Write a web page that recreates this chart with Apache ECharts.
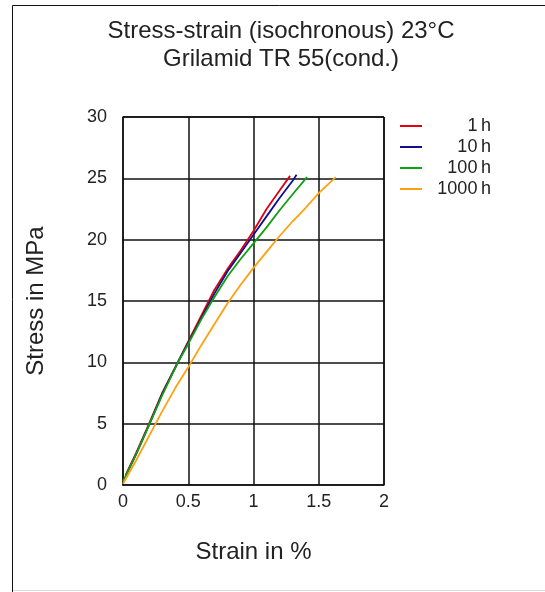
<!DOCTYPE html>
<html><head><meta charset="utf-8">
<script src="https://cdn.jsdelivr.net/npm/echarts@6/dist/echarts.min.js"></script>
<style>html,body{margin:0;padding:0;background:#fff}#c{width:545px;height:592px}</style>
</head><body><div id="c"></div>
<script>
const seriesNames = ['1h', '10h', '100h', '1000h'];
const legendLabels = ['1\u2009h', '10\u2009h', '100\u2009h', '1000\u2009h'];
const seriesColors = ['#e00010', '#10108c', '#10a010', '#ffa010'];
const xTicks = [0, 0.5, 1, 1.5, 2];
const yTicks = [0, 5, 10, 15, 20, 25, 30];

const strain1h = [0.02, 0.1, 0.2, 0.3, 0.42, 0.5, 0.6, 0.7, 0.8, 0.9, 1.0, 1.1, 1.2, 1.28];
const stress1h = [0.8, 2.6, 5.0, 7.5, 10.0, 11.7, 13.8, 15.9, 17.6, 19.1, 20.7, 22.5, 24.0, 25.2];
const strain10h = [0.02, 0.1, 0.2, 0.3, 0.42, 0.5, 0.6, 0.7, 0.8, 0.9, 1.0, 1.1, 1.2, 1.3, 1.33];
const stress10h = [0.7, 2.5, 4.9, 7.4, 10.0, 11.6, 13.6, 15.6, 17.4, 18.9, 20.4, 21.9, 23.4, 24.8, 25.3];
const strain100h = [0.0, 0.1, 0.2, 0.3, 0.42, 0.5, 0.6, 0.7, 0.8, 0.9, 1.0, 1.1, 1.2, 1.3, 1.41];
const stress100h = [0.3, 2.5, 4.9, 7.3, 10.0, 11.5, 13.5, 15.3, 17.0, 18.4, 19.7, 21.0, 22.4, 23.7, 25.1];
const strain1000h = [0.0, 0.1, 0.2, 0.3, 0.4, 0.5, 0.6, 0.7, 0.8, 0.9, 1.0, 1.1, 1.2, 1.3, 1.4, 1.5, 1.63];
const stress1000h = [0.1, 2.0, 4.0, 6.0, 7.9, 9.6, 11.4, 13.1, 14.8, 16.3, 17.7, 19.0, 20.3, 21.5, 22.6, 23.8, 25.1];

const strains = [strain1h, strain10h, strain100h, strain1000h];
const stresses = [stress1h, stress10h, stress100h, stress1000h];

const font = '"Liberation Sans", Arial, sans-serif';
const chart = echarts.init(document.getElementById('c'), null, {renderer: 'canvas'});
chart.setOption({
  animation: false,
  backgroundColor: '#fff',
  title: {
    text: 'Stress-strain (isochronous) 23°C\nGrilamid TR 55(cond.)',
    left: 281, top: 17, textAlign: 'center', padding: 0,
    textStyle: {fontFamily: font, fontSize: 24, fontWeight: 'normal', color: '#222', lineHeight: 28}
  },
  graphic: [
    {type: 'rect', shape: {x: 12.5, y: 5.5, width: 600, height: 620}, style: {fill: 'none', stroke: '#111', lineWidth: 1}, silent: true},
    {type: 'line', shape: {x1: 13, y1: 590.5, x2: 545, y2: 590.5}, style: {stroke: '#ddd', lineWidth: 1}, silent: true}
  ],
  legend: {
    orient: 'vertical', left: 400, top: 115.5, itemGap: 0, padding: 0,
    itemWidth: 22, itemHeight: 2, icon: 'rect',
    data: seriesNames,
    formatter: function (n) { return '{a|' + legendLabels[seriesNames.indexOf(n)] + '}'; },
    textStyle: {fontFamily: font, fontSize: 18, color: '#222',
      rich: {a: {width: 64, height: 21, lineHeight: 21, align: 'right', fontFamily: font, fontSize: 18, color: '#222'}}}
  },
  grid: {left: 123, right: 161, top: 117, bottom: 107},
  xAxis: {
    type: 'value', min: 0, max: 2, interval: 0.5,
    name: 'Strain in %', nameLocation: 'middle', nameGap: 55,
    nameTextStyle: {fontFamily: font, fontSize: 24, color: '#222'},
    axisLine: {show: true, lineStyle: {color: '#111', width: 1.5}},
    axisTick: {show: false},
    axisLabel: {fontFamily: font, fontSize: 18, color: '#222', margin: 8,
      formatter: v => xTicks.includes(v) ? String(v) : ''},
    splitLine: {show: true, lineStyle: {color: '#111', width: 1.5}}
  },
  yAxis: {
    type: 'value', min: 0, max: 30, interval: 5,
    name: 'Stress in MPa', nameLocation: 'middle', nameGap: 75,
    nameTextStyle: {fontFamily: font, fontSize: 24, color: '#222'},
    axisLine: {show: true, lineStyle: {color: '#111', width: 1.5}},
    axisTick: {show: false},
    axisLabel: {fontFamily: font, fontSize: 18, color: '#222', margin: 16,
      formatter: v => yTicks.includes(v) ? String(v) : ''},
    splitLine: {show: true, lineStyle: {color: '#111', width: 1.5}}
  },
  series: seriesNames.map((n, i) => ({
    name: n, type: 'line', showSymbol: false, smooth: false,
    color: seriesColors[i],
    lineStyle: {width: 1.8, color: seriesColors[i]},
    data: strains[i].map((x, j) => [x, stresses[i][j]])
  })).concat([{
    type: 'line', silent: true, showSymbol: false, data: [],
    markLine: {silent: true, symbol: 'none', label: {show: false},
      lineStyle: {color: '#111', width: 1.5, type: 'solid'},
      data: [{xAxis: 2}, {yAxis: 30}]}
  }])
});
</script></body></html>
